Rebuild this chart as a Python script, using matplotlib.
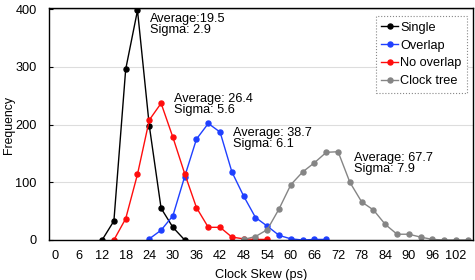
import matplotlib
matplotlib.use("Agg")
import matplotlib.pyplot as plt

plt.rcParams['font.family'] = ['Liberation Sans', 'DejaVu Sans']

single_x = [12, 15, 18, 21, 24, 27, 30, 33]
single_y = [0, 33, 296, 398, 198, 55, 22, 0]

overlap_x = [24, 27, 30, 33, 36, 39, 42, 45, 48, 51, 54, 57, 60, 63, 66, 69]
overlap_y = [2, 17, 42, 110, 175, 202, 187, 118, 76, 39, 24, 8, 2, 0, 1, 1]

nooverlap_x = [15, 18, 21, 24, 27, 30, 33, 36, 39, 42, 45, 48, 51, 54]
nooverlap_y = [0, 37, 114, 208, 237, 178, 115, 56, 22, 22, 5, 2, 1, 1]

clock_x = [48, 51, 54, 57, 60, 63, 66, 69, 72, 75, 78, 81, 84, 87, 90, 93, 96, 99, 102, 105]
clock_y = [1, 6, 18, 54, 96, 118, 134, 152, 153, 100, 66, 52, 27, 10, 10, 5, 1, 0, 0, 0]

xticks = list(range(0, 103, 6))
yticks = [0, 100, 200, 300, 400]

annotations = [
    (24.1, 394, "Average:19.5\nSigma: 2.9"),
    (30.2, 255, "Average: 26.4\nSigma: 5.6"),
    (45.2, 196, "Average: 38.7\nSigma: 6.1"),
    (76.1, 153, "Average: 67.7\nSigma: 7.9"),
]

FS = 9.2

fig = plt.figure(figsize=(4.75, 2.8), dpi=100)
ax = fig.add_axes([49/475, 1-240/280, (473-49)/475, (240-7.5)/280])

kw = dict(marker='o', markersize=3.6, linewidth=1.0)
ax.plot(single_x, single_y, color='black', label='Single', **kw)
ax.plot(overlap_x, overlap_y, color='#1f40ff', label='Overlap', **kw)
ax.plot(nooverlap_x, nooverlap_y, color='#ff0d0d', label='No overlap', **kw)
ax.plot(clock_x, clock_y, color='#858585', label='Clock tree', **kw)

ax.set_xlim(-1.5, 106.3)
ax.set_ylim(0, 403)
ax.set_xticks(xticks)
ax.set_yticks(yticks)
ax.tick_params(axis='x', length=0, labelsize=FS, pad=7)
ax.tick_params(axis='y', direction='in', length=3, labelsize=FS, pad=9)
ax.grid(axis='y', color='#dddddd', linewidth=0.8)
ax.set_axisbelow(True)
for s in ax.spines.values():
    s.set_linewidth(1.0)

ax.set_xlabel('Clock Skew (ps)', fontsize=FS, labelpad=5)
ax.set_ylabel('Frequency', fontsize=FS-0.4, va='center', ha='center')
ax.yaxis.set_label_coords(-0.094, 0.495)

for x, y, t in annotations:
    ax.text(x, y, t, fontsize=FS, va='top', ha='left', linespacing=0.92)

leg = ax.legend(loc='upper right', bbox_to_anchor=(0.986, 0.963), borderaxespad=0,
                fontsize=FS, handlelength=1.3, handletextpad=0.15, labelspacing=0.45,
                fancybox=False, framealpha=1, borderpad=0.45)
leg.get_frame().set_edgecolor('#888888')
leg.get_frame().set_linestyle(':')
leg.get_frame().set_linewidth(0.8)

fig.savefig('out.png', dpi=100)
